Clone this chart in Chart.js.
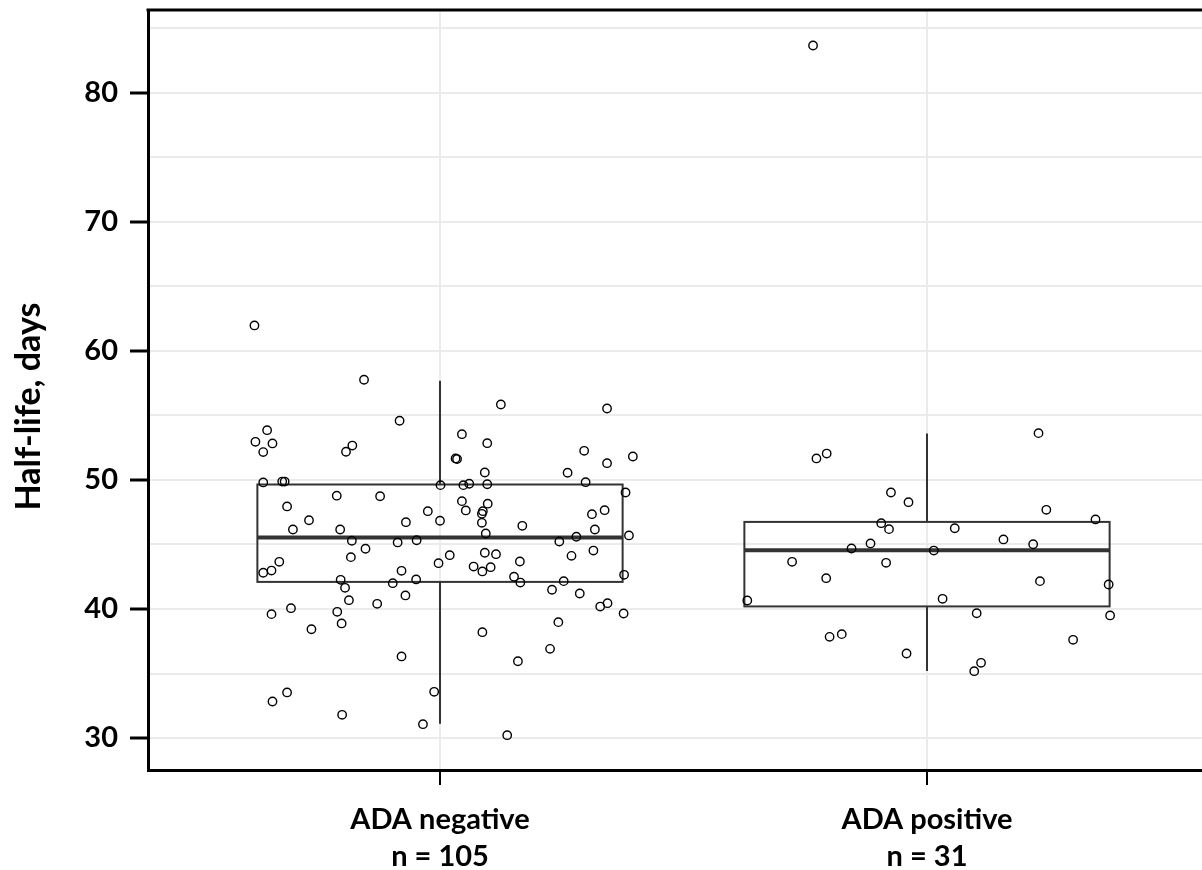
<!DOCTYPE html>
<html>
<head>
<meta charset="utf-8">
<title>Half-life by ADA status</title>
<script src="https://cdn.jsdelivr.net/npm/chart.js@4.4.1/dist/chart.umd.min.js"></script>
<style>
    html, body { margin: 0; padding: 0; background: #fff; overflow: hidden; }
    #wrap { width: 1202px; height: 870px; }
</style>
</head>
<body>
<div id="wrap"><canvas id="halfLifeChart" width="1202" height="870"></canvas></div>
<script>

// ==========================================
// Data
// ==========================================

const categories = [["ADA negative", "n = 105"], ["ADA positive", "n = 31"]];

const yTicks = [30, 40, 50, 60, 70, 80];
const yGridLines = [30, 35, 40, 45, 50, 55, 60, 65, 70, 75, 80, 85];

// [lower whisker, Q1, median, Q3, upper whisker]
const negBox = [31.1, 42.1, 45.55, 49.65, 57.7];
const posBox = [35.2, 40.2, 44.55, 46.75, 53.6];

// horizontal jitter (category units) and half-life values
const negJitter = [
    -0.381, -0.156, -0.083, 0.125, 0.343, -0.355, -0.379, -0.344, -0.363, -0.193,
    -0.180, 0.045, 0.097, 0.032, 0.035, 0.092, 0.296, 0.343, 0.396, 0.262,
    -0.363, -0.324, -0.319, 0.001, 0.048, 0.060, 0.097, 0.299,
    0.381, -0.212, -0.123, -0.314, 0.045, 0.098, 0.053, 0.088, 0.086, -0.025,
    0.338, 0.312, -0.269, -0.070, 0.000, 0.086, 0.169, -0.302, -0.205, 0.318,
    0.094, 0.388, 0.280, -0.181, -0.087, -0.048, 0.245, -0.153, 0.315, 0.092,
    0.115, 0.020, -0.183, 0.270, -0.330, 0.164, -0.003, 0.069, 0.104, 0.087,
    -0.346, -0.363, -0.079, 0.152, 0.378, -0.204, -0.049, -0.097, 0.165, 0.254,
    -0.195, 0.230, 0.287, -0.187, -0.071, -0.129, -0.306, -0.346, -0.211, 0.329,
    0.344, 0.377,
    0.243, -0.264, -0.202, 0.087, -0.079, 0.226, 0.160, -0.314, -0.344, -0.012,
    -0.201, -0.035, 0.138
];

const negValues = [
    61.98, 57.77, 54.59, 55.85, 55.54, 53.86, 52.96, 52.83, 52.16, 52.19,
    52.67, 53.55, 52.85, 51.67, 51.62, 50.58, 52.26, 51.30, 51.82, 50.56,
    49.81, 49.88, 49.88, 49.60, 49.60, 49.71, 49.67, 49.83,
    49.03, 48.78, 48.74, 47.95, 48.36, 48.16, 47.64, 47.58, 47.38, 47.58,
    47.66, 47.35, 46.88, 46.73, 46.84, 46.68, 46.45, 46.16, 46.16, 46.16,
    45.85, 45.70, 45.60, 45.29, 45.16, 45.33, 45.23, 44.67, 44.53, 44.36,
    44.25, 44.17, 44.02, 44.12, 43.66, 43.68, 43.55, 43.29, 43.24, 42.91,
    42.98, 42.81, 42.96, 42.50, 42.65, 42.26, 42.29, 42.00, 42.05, 42.16,
    41.64, 41.49, 41.20, 40.68, 41.05, 40.40, 40.06, 39.60, 39.78, 40.19,
    40.45, 39.65,
    38.98, 38.43, 38.88, 38.20, 36.32, 36.91, 35.95, 33.53, 32.83, 33.58,
    31.80, 31.07, 30.22
];

const posJitter = [
    0.229, -0.227, -0.206, -0.074, -0.038, 0.245, 0.346, -0.094, -0.078, 0.057,
    0.157, -0.116, 0.218, -0.155, 0.014, -0.277, -0.084, -0.207, 0.232, 0.373,
    -0.369, 0.032, 0.102, 0.376, -0.200, -0.175, 0.300, -0.042, 0.111, 0.097,
    -0.234
];

const posValues = [
    53.63, 51.67, 52.05, 49.03, 48.28, 47.69, 46.94, 46.65, 46.19, 46.26,
    45.39, 45.08, 45.02, 44.69, 44.53, 43.66, 43.58, 42.39, 42.16, 41.90,
    40.66, 40.79, 39.67, 39.50, 37.84, 38.05, 37.61, 36.55, 35.83, 35.18,
    83.68
];


// ==========================================
// Box plot plugin
// ==========================================

const BOX_HALF = 0.375;

const boxPlugin = {

    id: "boxPlot",

    beforeDatasetsDraw(chart) {

        const ctx = chart.ctx;
        const x = chart.scales.x;
        const y = chart.scales.y;

        [negBox, posBox].forEach((box, i) => {

            const center = i + 1;
            const left = x.getPixelForValue(center - BOX_HALF);
            const right = x.getPixelForValue(center + BOX_HALF);
            const mid = x.getPixelForValue(center);

            const yLow = y.getPixelForValue(box[0]);
            const yQ1 = y.getPixelForValue(box[1]);
            const yMed = y.getPixelForValue(box[2]);
            const yQ3 = y.getPixelForValue(box[3]);
            const yHigh = y.getPixelForValue(box[4]);

            ctx.save();
            ctx.strokeStyle = "#333333";
            ctx.lineWidth = 2;

            // whiskers
            ctx.beginPath();
            ctx.moveTo(mid, yQ3);
            ctx.lineTo(mid, yHigh);
            ctx.moveTo(mid, yQ1);
            ctx.lineTo(mid, yLow);
            ctx.stroke();

            // box
            ctx.strokeRect(left, yQ3, right - left, yQ1 - yQ3);

            // median
            ctx.lineWidth = 4;
            ctx.beginPath();
            ctx.moveTo(left, yMed);
            ctx.lineTo(right, yMed);
            ctx.stroke();

            ctx.restore();

        });

    },

    afterDraw(chart) {

        // top frame line
        const ctx = chart.ctx;
        const area = chart.chartArea;

        ctx.save();
        ctx.strokeStyle = "#000";
        ctx.lineWidth = 3;
        ctx.beginPath();
        ctx.moveTo(area.left - 1.5, area.top);
        ctx.lineTo(area.right, area.top);
        ctx.stroke();
        ctx.restore();

    }

};


// ==========================================
// Chart
// ==========================================

Chart.defaults.font.family = "Lato, 'Open Sans', sans-serif";
Chart.defaults.font.weight = "bold";
Chart.defaults.color = "#000";

function pointsFor(center, jitter, values) {

    return values.map((v, i) => ({ x: center + jitter[i], y: v }));

}

const pointStyle = {
    type: "scatter",
    pointRadius: 4.2,
    pointHoverRadius: 4.2,
    borderWidth: 1.4,
    borderColor: "#000",
    backgroundColor: "rgba(0,0,0,0)",
    showLine: false
};

new Chart(document.getElementById("halfLifeChart"), {

    type: "scatter",

    data: {
        datasets: [
            { ...pointStyle, label: "ADA negative", data: pointsFor(1, negJitter, negValues) },
            { ...pointStyle, label: "ADA positive", data: pointsFor(2, posJitter, posValues) }
        ]
    },

    options: {

        responsive: false,
        animation: false,
        devicePixelRatio: 1,

        layout: {
            autoPadding: false,
            padding: { top: 10, left: 0, right: 0, bottom: 0 }
        },

        plugins: {
            legend: { display: false },
            tooltip: { enabled: false }
        },

        scales: {

            x: {
                type: "linear",
                min: 0.4004,
                max: 2.5647,
                afterBuildTicks(scale) {
                    scale.ticks = [{ value: 1 }, { value: 2 }];
                },
                afterFit(scale) {
                    scale.height = 100;
                    scale.paddingLeft = 0;
                    scale.paddingRight = 0;
                },
                ticks: {
                    autoSkip: false,
                    maxRotation: 0,
                    padding: 16,
                    font: { size: 29, weight: "bold", lineHeight: 1.28 },
                    callback: (value, index) => categories[index]
                },
                grid: {
                    color: "#ebebeb",
                    lineWidth: 2,
                    tickColor: "#000",
                    tickWidth: 2,
                    tickLength: 15
                },
                border: { color: "#000", width: 3 }
            },

            y: {
                type: "linear",
                min: 27.52,
                max: 86.43,
                afterBuildTicks(scale) {
                    scale.ticks = yGridLines.map(v => ({ value: v }));
                },
                afterFit(scale) {
                    scale.width = 148;
                    scale.paddingTop = 0;
                    scale.paddingBottom = 0;
                },
                ticks: {
                    padding: 12,
                    font: { size: 29, weight: "bold" },
                    callback: value => yTicks.includes(value) ? String(value) : ""
                },
                grid: {
                    color: "#ebebeb",
                    lineWidth: 2,
                    tickColor: ctx => yTicks.includes(ctx.tick.value) ? "#000" : "rgba(0,0,0,0)",
                    tickWidth: 3,
                    tickLength: 18
                },
                border: { color: "#000", width: 3 },
                title: {
                    display: true,
                    text: "Half-life, days    ",
                    font: { size: 34, weight: "bold" },
                    padding: { top: 9, bottom: 0 }
                }
            }

        }

    },

    plugins: [boxPlugin]

});

</script>
</body>
</html>
